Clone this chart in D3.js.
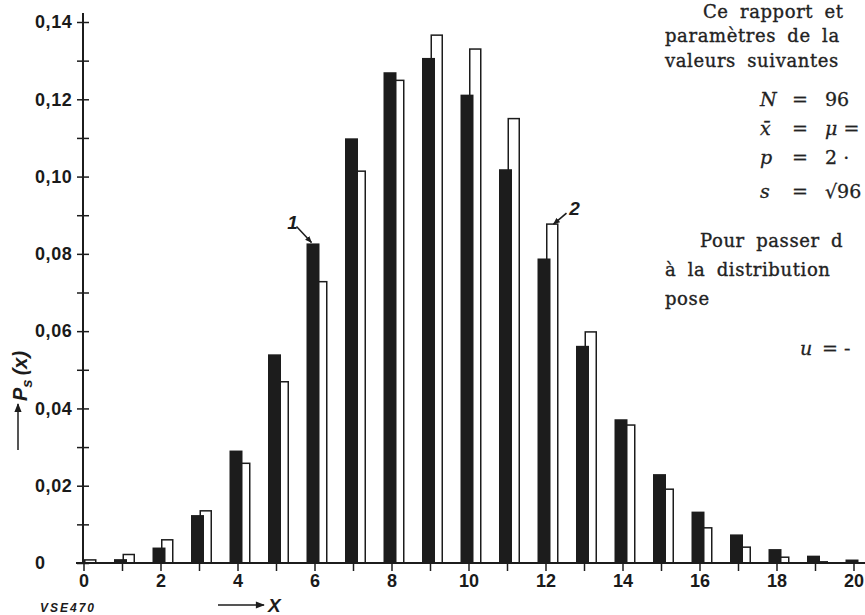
<!DOCTYPE html>
<html lang="fr">
<head>
<meta charset="UTF-8" />
<title>Ps(x)</title>
<style>
  body { margin: 0; background: #fff; overflow: hidden; }
  svg { display: block; }
  .tick text { font-family: "Liberation Sans", Arial, sans-serif; font-weight: bold; font-size: 18px; fill: #1a1a1a; }
  .prose { font-family: "DejaVu Serif", serif; font-size: 18px; fill: #222; stroke: #222; stroke-width: 0.35px; }
  .math { font-family: "DejaVu Serif", serif; font-size: 19px; fill: #222; stroke: #222; stroke-width: 0.3px; }
</style>
<script src="https://cdn.jsdelivr.net/npm/d3@7"></script>
</head>
<body>
<svg id="chart" width="865" height="615"></svg>
<script>
// x values and the two distributions
const xs = [0, 1, 2, 3, 4, 5, 6, 7, 8, 9, 10, 11, 12, 13, 14, 15, 16, 17, 18, 19, 20];
// curve 1 (black bars)
const serie1 = [0, 0.001, 0.004, 0.0124, 0.0291, 0.054, 0.0827, 0.1099, 0.127, 0.1307, 0.1212,
                0.1019, 0.0788, 0.0562, 0.0372, 0.023, 0.0133, 0.0074, 0.0036, 0.0019, 0.0009];
// curve 2 (white bars)
const serie2 = [0.0008, 0.0022, 0.006, 0.0135, 0.0258, 0.0469, 0.0728, 0.1014, 0.1249, 0.1366, 0.133,
                0.115, 0.0877, 0.0598, 0.0357, 0.0191, 0.0091, 0.0041, 0.0015, 0.0003, 0];
const yTicks = [0, 0.01, 0.02, 0.03, 0.04, 0.05, 0.06, 0.07, 0.08, 0.09, 0.10, 0.11, 0.12, 0.13, 0.14];
const yLabels = ["0", "", "0,02", "", "0,04", "", "0,06", "", "0,08", "", "0,10", "", "0,12", "", "0,14"];
const xLabelled = [0, 2, 4, 6, 8, 10, 12, 14, 16, 18, 20];

const svg = d3.select('#chart');
const ink = '#1c1c1c';

const x = d3.scaleLinear().domain([0, 20]).range([83.5, 853.5]);
const y = d3.scaleLinear().domain([0, 0.14]).range([563, 22]);

const defs = svg.append('defs');
defs.append('marker')
  .attr('id', 'head').attr('viewBox', '0 0 10 10')
  .attr('refX', 9).attr('refY', 5)
  .attr('markerWidth', 7).attr('markerHeight', 7)
  .attr('markerUnits', 'userSpaceOnUse')
  .attr('orient', 'auto')
  .append('path').attr('d', 'M0,1 L10,5 L0,9 Z').attr('fill', ink);
defs.append('marker')
  .attr('id', 'bighead').attr('viewBox', '0 0 10 10')
  .attr('refX', 9).attr('refY', 5)
  .attr('markerWidth', 12).attr('markerHeight', 9)
  .attr('markerUnits', 'userSpaceOnUse')
  .attr('orient', 'auto')
  .append('path').attr('d', 'M0,1 L10,5 L0,9 Z').attr('fill', ink);

// white bars (2) sit behind the black ones
svg.append('g').selectAll('rect')
  .data(xs.map((d, i) => ({ x: d, v: serie2[i] })).filter(d => d.v > 0))
  .join('rect')
  .attr('x', d => x(d.x) + 1.25)
  .attr('width', 11)
  .attr('y', d => y(d.v))
  .attr('height', d => y(0) - y(d.v))
  .attr('fill', '#fff')
  .attr('stroke', ink)
  .attr('stroke-width', 1.5);

svg.append('g').selectAll('rect')
  .data(xs.map((d, i) => ({ x: d, v: serie1[i] })).filter(d => d.v > 0))
  .join('rect')
  .attr('x', d => x(d.x) - 8)
  .attr('width', 13)
  .attr('y', d => y(d.v))
  .attr('height', d => y(0) - y(d.v))
  .attr('fill', ink);

// x axis
const gx = svg.append('g')
  .attr('transform', `translate(0,${y(0)})`)
  .call(d3.axisBottom(x).tickValues(xs).tickSize(8).tickPadding(3.5)
    .tickFormat(d => xLabelled.includes(d) ? d : ''));
gx.select('.domain').attr('d', `M76,0H865`).attr('stroke', ink).attr('stroke-width', 2);
gx.selectAll('.tick line').attr('stroke', ink).attr('stroke-width', 1.5);

// y axis with crossing ticks
const gy = svg.append('g')
  .attr('transform', `translate(${x(0) - 0.5},0)`)
  .call(d3.axisLeft(y).tickValues(yTicks).tickSize(6)
    .tickFormat((d, i) => yLabels[i]));
gy.select('.domain').attr('d', `M0,13V${y(0)}`).attr('stroke', ink).attr('stroke-width', 2);
gy.selectAll('.tick line').attr('x1', 6).attr('stroke', ink).attr('stroke-width', 1.5);
gy.selectAll('.tick text').attr('x', -48).attr('text-anchor', 'start').attr('letter-spacing', 0.6);

// axis titles
svg.append('line')
  .attr('x1', 18).attr('y1', 450).attr('x2', 18).attr('y2', 404)
  .attr('stroke', ink).attr('stroke-width', 1.5).attr('marker-end', 'url(#bighead)');
const ylab = svg.append('text')
  .attr('transform', 'translate(27,401) rotate(-90)')
  .attr('font-family', '"Liberation Sans", Arial, sans-serif')
  .attr('font-weight', 'bold').attr('font-style', 'italic')
  .attr('font-size', 20).attr('fill', ink);
ylab.append('tspan').text('P');
ylab.append('tspan').attr('font-size', 15).attr('dy', 5).text('s');
ylab.append('tspan').attr('dy', -5).attr('dx', 4).text('(x)');

svg.append('line')
  .attr('x1', 218).attr('y1', 605).attr('x2', 264).attr('y2', 605)
  .attr('stroke', ink).attr('stroke-width', 1.5).attr('marker-end', 'url(#bighead)');
svg.append('text')
  .attr('x', 268).attr('y', 612)
  .attr('font-family', '"Liberation Sans", Arial, sans-serif')
  .attr('font-weight', 'bold').attr('font-style', 'italic')
  .attr('font-size', 19).attr('fill', ink).text('X');

svg.append('text')
  .attr('x', 40).attr('y', 612)
  .attr('font-family', '"Liberation Sans", Arial, sans-serif')
  .attr('font-weight', 'bold').attr('font-style', 'italic')
  .attr('font-size', 12).attr('letter-spacing', 2).attr('fill', ink).text('VSE470');

// curve markers 1 and 2
const notes = [
  { label: '1', tx: x(6) - 22, ty: y(serie1[6]) - 14, ax: x(6) - 18, ay: y(serie1[6]) - 17, bx: x(6) - 3, by: y(serie1[6]) - 1 },
  { label: '2', tx: x(12) + 29, ty: y(serie2[12]) - 9, ax: x(12) + 21, ay: y(serie2[12]) - 11, bx: x(12) + 8, by: y(serie2[12]) },
];
svg.append('g').selectAll('line').data(notes).join('line')
  .attr('x1', d => d.ax).attr('y1', d => d.ay)
  .attr('x2', d => d.bx).attr('y2', d => d.by)
  .attr('stroke', ink).attr('stroke-width', 1.6).attr('marker-end', 'url(#head)');
svg.append('g').selectAll('text').data(notes).join('text')
  .attr('x', d => d.tx).attr('y', d => d.ty)
  .attr('text-anchor', 'middle')
  .attr('font-family', '"Liberation Sans", Arial, sans-serif')
  .attr('font-weight', 'bold').attr('font-style', 'italic')
  .attr('font-size', 19).attr('fill', ink).text(d => d.label);

// surrounding page text (cut at the right edge)
const prose = [
  { t: 'Ce rapport et', x: 703, y: 18 },
  { t: 'paramètres de la', x: 665, y: 42 },
  { t: 'valeurs suivantes', x: 665, y: 67 },
  { t: 'Pour passer d', x: 700, y: 247 },
  { t: 'à la distribution', x: 665, y: 276 },
  { t: 'pose', x: 665, y: 305 },
];
svg.append('g').selectAll('text').data(prose).join('text')
  .attr('class', 'prose')
  .attr('x', d => d.x).attr('y', d => d.y)
  .attr('word-spacing', 5).attr('letter-spacing', 0.6)
  .text(d => d.t);

const maths = [
  { v: 'N', rhs: '96', y: 106 },
  { v: 'x\u0304', rhs: 'μ =', y: 135, it: true },
  { v: 'p', rhs: '2 ·', y: 164 },
  { v: 's', rhs: '√96', y: 198 },
];
const gm = svg.append('g').attr('class', 'math');
gm.selectAll('text.v').data(maths).join('text')
  .attr('class', 'v').attr('x', 760).attr('y', d => d.y)
  .attr('font-style', 'italic').text(d => d.v);
gm.selectAll('text.eq').data(maths).join('text')
  .attr('class', 'eq').attr('x', 792).attr('y', d => d.y).text('=');
gm.selectAll('text.r').data(maths).join('text')
  .attr('class', 'r').attr('x', 825).attr('y', d => d.y)
  .attr('font-style', d => d.it ? 'italic' : null)
  .text(d => d.rhs);
gm.append('text').attr('x', 800).attr('y', 355).attr('font-style', 'italic').text('u');
gm.append('text').attr('x', 822).attr('y', 355).text('= -');
</script>
</body>
</html>
